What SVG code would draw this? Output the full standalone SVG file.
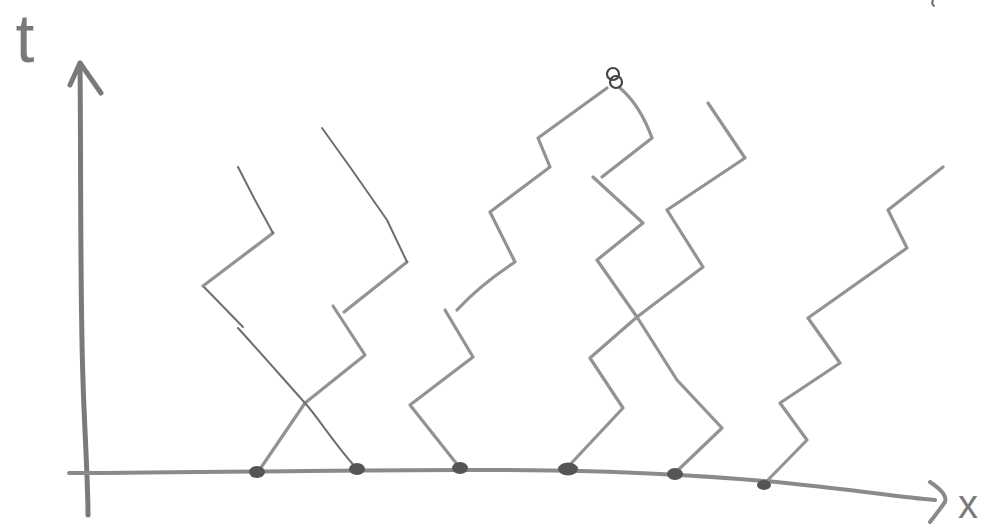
<svg xmlns="http://www.w3.org/2000/svg" width="990" height="530" viewBox="0 0 990 530">
<style>
.axis{fill:none;stroke:#7a7a7a;stroke-width:5;stroke-linecap:round;stroke-linejoin:round}
.haxis{fill:none;stroke:#8a8a8a;stroke-width:4;stroke-linecap:round;stroke-linejoin:round}
.zz{fill:none;stroke:#939393;stroke-width:3.2;stroke-linecap:round;stroke-linejoin:round}
.thin{fill:none;stroke:#6e6e6e;stroke-width:2;stroke-linecap:round;stroke-linejoin:round}
.dot{fill:#555555}
.lbl{font-family:"Liberation Sans",Arial,sans-serif;fill:#7a7a7a;text-anchor:middle}
</style>
<rect width="990" height="530" fill="#ffffff"/>
<g id="axes">
  <path class="axis" d="M88,515 C88,480 84,420 83,380 C80,300 81,150 80,63"/>
  <path class="axis" d="M70,85 L80,63 L101,93"/>
  <path class="haxis" d="M69,473 C300,472 500,466 660,474 S880,496 935,500"/>
  <path class="haxis" d="M930,482 Q948,494 945,502 Q938,512 930,522"/>
  <path class="thin" d="M933,0 Q931,4 934,6"/>
</g>
<g id="labels">
  <text class="lbl" x="25" y="62" font-size="68">t</text>
  <text class="lbl" x="968" y="518" font-size="40">x</text>
</g>
<g id="connectors">
  <g id="pathA">
    <path class="zz" d="M258,472 L305,403 L365,355 L333,306"/>
    <path class="zz" d="M344,312 L407,262"/>
    <path class="thin" d="M407,262 L387,220 L350,167 L322,128"/>
  </g>
  <g id="pathB">
    <path class="thin" d="M358,470 C335,445 320,420 305,403 C280,375 258,350 238,328"/>
    <path class="thin" d="M243,327 L203,286"/>
    <path class="zz" d="M203,286 L273,233"/>
    <path class="thin" d="M273,233 L255,200 L238,167"/>
  </g>
  <g id="pathC">
    <path class="zz" d="M460,468 L410,405 L473,357 L445,310"/>
    <path class="zz" d="M457,310 Q480,285 515,262 L490,212 L550,167 L538,138 L607,88"/>
    <path class="zz" d="M620,88 Q640,105 652,138 L602,177"/>
    <path class="zz" d="M593,177 L643,223 L597,260 L637,317 L677,380 L722,428 L675,473"/>
  </g>
  <g id="pathD">
    <path class="zz" d="M565,470 L623,408 L590,358 L637,317 L703,267 L667,210 L745,158 L708,103"/>
  </g>
  <g id="pathE">
    <path class="zz" d="M765,483 L807,440 L780,403 L840,363 L808,318 L907,248 L888,210 L943,167"/>
  </g>
</g>
<g id="events">
  <g id="circle">
    <circle cx="613" cy="74" r="6" fill="none" stroke="#444444" stroke-width="2.2"/>
    <circle cx="616" cy="82" r="6" fill="none" stroke="#444444" stroke-width="2.2"/>
  </g>
  <g id="dot1"><ellipse class="dot" cx="257" cy="472" rx="8" ry="6"/></g>
  <g id="dot2"><ellipse class="dot" cx="357" cy="469" rx="8" ry="6"/></g>
  <g id="dot3"><ellipse class="dot" cx="460" cy="468" rx="8" ry="6"/></g>
  <g id="dot4"><ellipse class="dot" cx="568" cy="469" rx="10" ry="6.5"/></g>
  <g id="dot5"><ellipse class="dot" cx="675" cy="474" rx="8" ry="6"/></g>
  <g id="dot6"><ellipse class="dot" cx="764" cy="485" rx="7" ry="5"/></g>
</g>
</svg>
